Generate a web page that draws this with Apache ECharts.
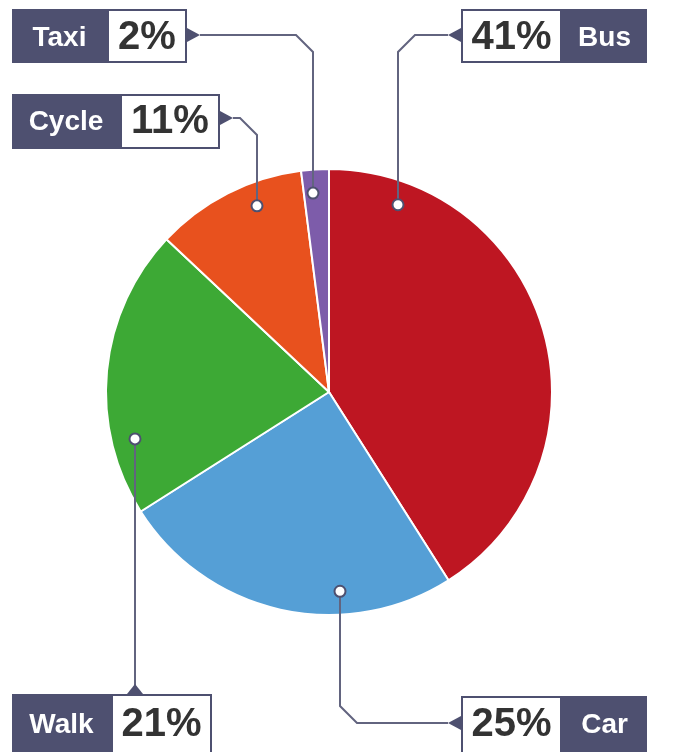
<!DOCTYPE html>
<html><head><meta charset="utf-8">
<script src="https://cdn.jsdelivr.net/npm/echarts@6/dist/echarts.min.js"></script>
<style>html,body{margin:0;padding:0;background:#fff}#c{width:673px;height:752px}</style>
</head><body><div id="c"></div>
<script>
// ---- data ----
const categories = ['Bus', 'Car', 'Walk', 'Cycle', 'Taxi'];
const values = [41, 25, 21, 11, 2];
const sliceColors = ['#BE1622', '#559FD6', '#3DA935', '#E8511E', '#7D5CAA'];

// ---- annotation layout (box positions & connector routing) ----
const NAVY = '#4E5070';
const LINE = '#62647F';
const labelLayout = {
  Taxi:  { x: 12,  y: 9,   h: 54, nameW: 95,  pctW: 80,  nameFirst: true,  pointer: 'right', py: 35,  ty: 38,  route: [[296, 35], [313, 52]], vx: 313, above: true },
  Cycle: { x: 12,  y: 94,  h: 55, nameW: 108, pctW: 100, nameFirst: true,  pointer: 'right', py: 118, ty: 122, route: [[240, 118], [257, 135]], vx: 257, above: true },
  Bus:   { x: 461, y: 9,   h: 54, nameW: 85,  pctW: 101, nameFirst: false, pointer: 'left',  py: 35,  ty: 38,  route: [[415, 35], [398, 52]], vx: 398, above: true },
  Walk:  { x: 12,  y: 694, h: 60, nameW: 99,  pctW: 101, nameFirst: true,  pointer: 'top',   px: 135, ty: 725, route: [], vx: 135, above: false },
  Car:   { x: 461, y: 696, h: 60, nameW: 85,  pctW: 101, nameFirst: false, pointer: 'left',  py: 723, ty: 725, route: [[357, 723], [340, 706]], vx: 340, above: false }
};

const chart = echarts.init(document.getElementById('c'), null, { renderer: 'canvas' });
chart.setOption({
  animation: false,
  backgroundColor: '#ffffff',
  series: [{
    type: 'pie',
    center: [329, 392],
    radius: 223,
    startAngle: 90,
    clockwise: true,
    silent: true,
    label: { show: false },
    labelLine: { show: false },
    itemStyle: { borderColor: '#ffffff', borderWidth: 2 },
    data: categories.map((c, i) => ({ name: c, value: values[i], itemStyle: { color: sliceColors[i] } }))
  }]
});

// build annotations from the pie's own layout
const data = chart.getModel().getSeriesByIndex(0).getData();
const lay0 = data.getItemLayout(0);
const cx = lay0.cx, cy = lay0.cy, R = lay0.r * 0.895;
const g = [];
categories.forEach((name, i) => {
  const L = labelLayout[name];
  const total = L.nameW + L.pctW;
  const nameX = L.nameFirst ? L.x : L.x + L.pctW;
  const pctX = L.nameFirst ? L.x + L.nameW : L.x;
  const textY = L.ty;
  // connector
  const dx = L.vx - cx;
  const dyAbs = Math.sqrt(Math.max(0, R * R - dx * dx));
  const dotY = L.above ? cy - dyAbs : cy + dyAbs;
  let start;
  if (L.pointer === 'right') start = [L.x + total + 13, L.py];
  else if (L.pointer === 'left') start = [L.x - 13, L.py];
  else start = [L.px, L.y - 9];
  const pts = [start].concat(L.route).concat([[L.vx, dotY]]);
  g.push({ type: 'polyline', z: 10, shape: { points: pts }, style: { stroke: LINE, lineWidth: 2, fill: null } });
  // pointer triangle
  let tri;
  if (L.pointer === 'right') { const bx = L.x + total; tri = [[bx, L.py - 7], [bx + 13, L.py], [bx, L.py + 7]]; }
  else if (L.pointer === 'left') { tri = [[L.x, L.py - 7], [L.x - 13, L.py], [L.x, L.py + 7]]; }
  else { tri = [[L.px - 8, L.y], [L.px, L.y - 10], [L.px + 8, L.y]]; }
  g.push({ type: 'polygon', z: 11, shape: { points: tri }, style: { fill: NAVY } });
  // boxes
  g.push({ type: 'rect', z: 12, shape: { x: nameX, y: L.y, width: L.nameW, height: L.h }, style: { fill: NAVY } });
  g.push({ type: 'rect', z: 12, shape: { x: pctX + 1, y: L.y + 1, width: L.pctW - 2, height: L.h - 2 }, style: { fill: '#ffffff', stroke: NAVY, lineWidth: 2 } });
  g.push({ type: 'text', z: 13, x: nameX + L.nameW / 2, y: textY,
    style: { text: name, fill: '#ffffff', font: 'bold 28px "Liberation Sans", Arial, sans-serif', textAlign: 'center', textVerticalAlign: 'middle' } });
  g.push({ type: 'text', z: 13, x: pctX + L.pctW / 2, y: textY,
    style: { text: values[i] + '%', fill: '#333333', font: 'bold 40px "Liberation Sans", Arial, sans-serif', textAlign: 'center', textVerticalAlign: 'middle' } });
  // dot
  g.push({ type: 'circle', z: 14, shape: { cx: L.vx, cy: dotY, r: 5.5 }, style: { fill: '#ffffff', stroke: '#4E5070', lineWidth: 2 } });
});
chart.setOption({ graphic: { elements: g } });
</script>
</body></html>
